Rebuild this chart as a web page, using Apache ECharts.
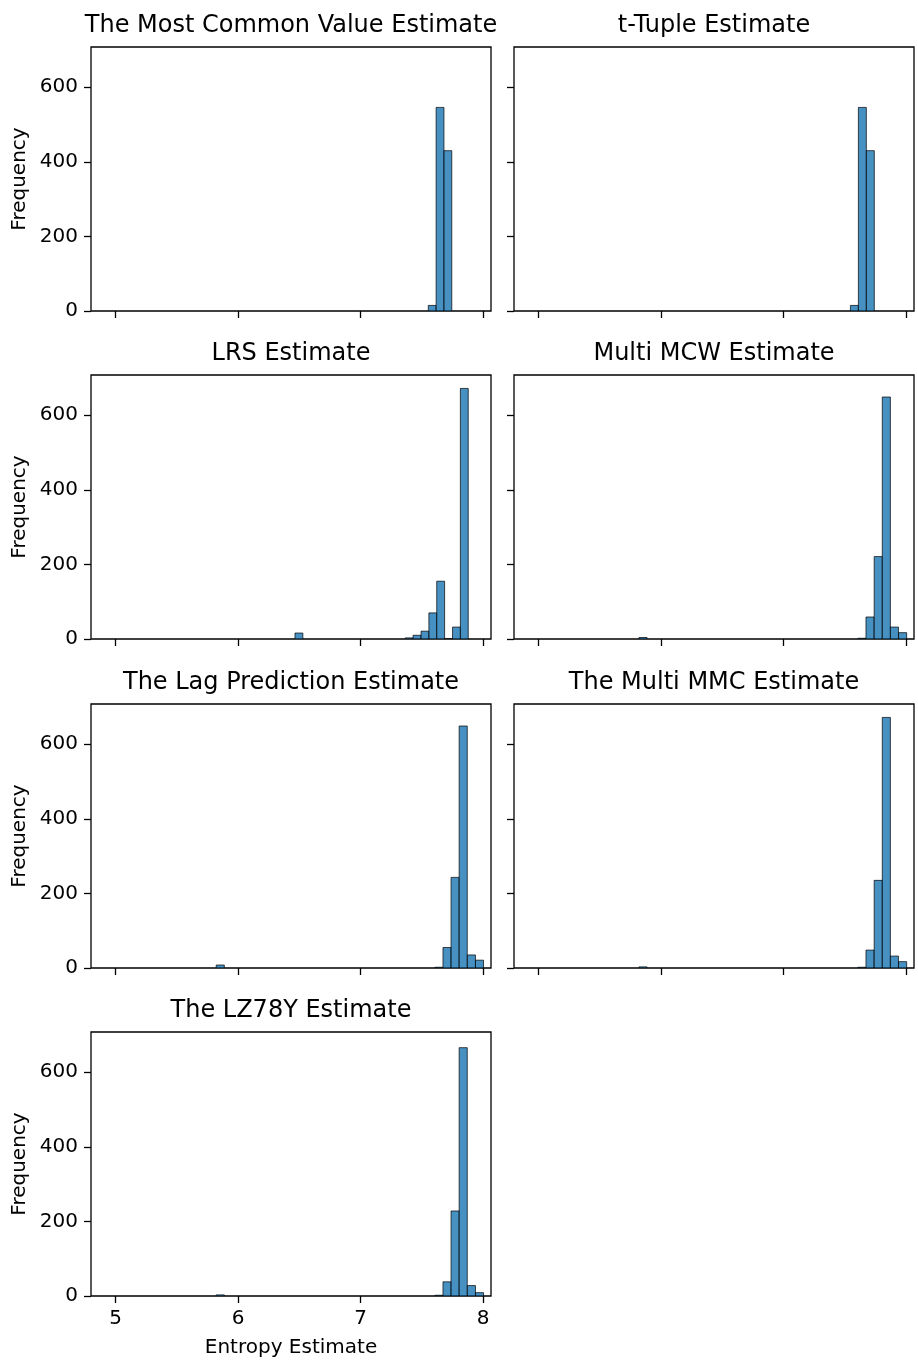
<!DOCTYPE html>
<html><head><meta charset="utf-8">
<script src="https://cdn.jsdelivr.net/npm/echarts@6/dist/echarts.min.js"></script>
<style>html,body{margin:0;padding:0;background:#fff}#c{width:918px;height:1364px}</style>
</head><body><div id="c"></div>
<script>
// ---- data ----
const panelTitles = ["The Most Common Value Estimate", "t-Tuple Estimate", "LRS Estimate",
  "Multi MCW Estimate", "The Lag Prediction Estimate", "The Multi MMC Estimate", "The LZ78Y Estimate"];
const xTickValues = [5, 6, 7, 8];
const yTickValues = [0, 200, 400, 600];
const xLabel = "Entropy Estimate";
const yLabel = "Frequency";

// bin left edges, bin width and counts per panel
const mcvLeft = [7.553, 7.617, 7.681];
const mcvWidth = 0.064;
const mcvCounts = [15, 546, 430];

const tupleLeft = [7.546, 7.611, 7.676];
const tupleWidth = 0.065;
const tupleCounts = [15, 546, 430];

const lrsLeft = [6.465, 7.365, 7.429, 7.494, 7.558, 7.622, 7.687, 7.751, 7.815];
const lrsWidth = 0.0643;
const lrsCounts = [16, 3, 10, 21, 70, 155, 0, 32, 672];

const mcwLeft = [5.820, 7.607, 7.673, 7.740, 7.806, 7.872, 7.939];
const mcwWidth = 0.0662;
const mcwCounts = [4, 2, 59, 221, 649, 32, 17];

const lagLeft = [5.822, 7.607, 7.673, 7.739, 7.805, 7.872, 7.938];
const lagWidth = 0.0661;
const lagCounts = [8, 2, 55, 243, 649, 35, 21];

const mmcLeft = [5.820, 7.607, 7.673, 7.740, 7.806, 7.872, 7.939];
const mmcWidth = 0.0662;
const mmcCounts = [3, 2, 48, 235, 672, 32, 17];

const lzLeft = [5.822, 7.607, 7.673, 7.739, 7.805, 7.872, 7.938];
const lzWidth = 0.0661;
const lzCounts = [3, 2, 38, 228, 666, 28, 9];

const xMin = 4.8, xMax = 8.065, yMax = 708;

// ---- layout ----
const colLeft = [91, 514];
const rowTop = [47, 375, 704, 1032];
const gw = 400, gh = 264;
const FONT = "DejaVu Sans";

const panels = [
  [mcvLeft, mcvWidth, mcvCounts],
  [tupleLeft, tupleWidth, tupleCounts],
  [lrsLeft, lrsWidth, lrsCounts],
  [mcwLeft, mcwWidth, mcwCounts],
  [lagLeft, lagWidth, lagCounts],
  [mmcLeft, mmcWidth, mmcCounts],
  [lzLeft, lzWidth, lzCounts]
];

const grids = [], xAxes = [], yAxes = [], series = [], titles = [];
panels.forEach((p, i) => {
  const col = i % 2, row = Math.floor(i / 2);
  const left = colLeft[col], top = rowTop[row];
  grids.push({ left: left, top: top, width: gw, height: gh, show: true,
    borderColor: '#000', borderWidth: 1.3, backgroundColor: 'transparent', containLabel: false });
  const bottomRow = (i === 6);
  xAxes.push({
    gridIndex: i, type: 'value', min: xMin, max: xMax,
    axisLine: { show: false },
    splitLine: { show: false },
    axisTick: { show: true, inside: false, length: 7, customValues: xTickValues, lineStyle: { color: '#000', width: 1.3 } },
    axisLabel: { show: bottomRow, customValues: xTickValues, margin: 13, color: '#000', fontFamily: FONT, fontSize: 20 },
    name: bottomRow ? xLabel : '', nameLocation: 'middle', nameGap: 42,
    nameTextStyle: { color: '#000', fontFamily: FONT, fontSize: 20 }
  });
  const leftCol = (col === 0);
  yAxes.push({
    gridIndex: i, type: 'value', min: 0, max: yMax,
    axisLine: { show: false },
    splitLine: { show: false },
    axisTick: { show: true, inside: false, length: 7, customValues: yTickValues, lineStyle: { color: '#000', width: 1.3 } },
    axisLabel: { show: leftCol, customValues: yTickValues, margin: 13, color: '#000', fontFamily: FONT, fontSize: 20 },
    name: leftCol ? yLabel : '', nameLocation: 'middle', nameGap: 61, nameRotate: 90,
    nameTextStyle: { color: '#000', fontFamily: FONT, fontSize: 20 }
  });
  titles.push({
    text: panelTitles[i], left: left + gw / 2, top: top - 33, textAlign: 'center', padding: 0,
    textStyle: { color: '#000', fontFamily: FONT, fontSize: 24, fontWeight: 'normal' }
  });
  const data = p[0].map((l, k) => [l, l + p[1], p[2][k]]);
  series.push({
    type: 'custom', xAxisIndex: i, yAxisIndex: i, clip: true, data: data,
    renderItem: function (params, api) {
      const a = api.coord([api.value(0), 0]);
      const b = api.coord([api.value(1), api.value(2)]);
      return {
        type: 'rect',
        shape: { x: a[0], y: b[1], width: b[0] - a[0], height: a[1] - b[1] },
        style: { fill: 'rgba(31,119,180,0.82)', stroke: 'rgba(0,0,0,0.7)', lineWidth: 1 }
      };
    }
  });
});

const chart = echarts.init(document.getElementById('c'), null, { renderer: 'canvas' });
chart.setOption({
  backgroundColor: '#fff',
  animation: false,
  title: titles,
  grid: grids,
  xAxis: xAxes,
  yAxis: yAxes,
  series: series
});
</script>
</body></html>
